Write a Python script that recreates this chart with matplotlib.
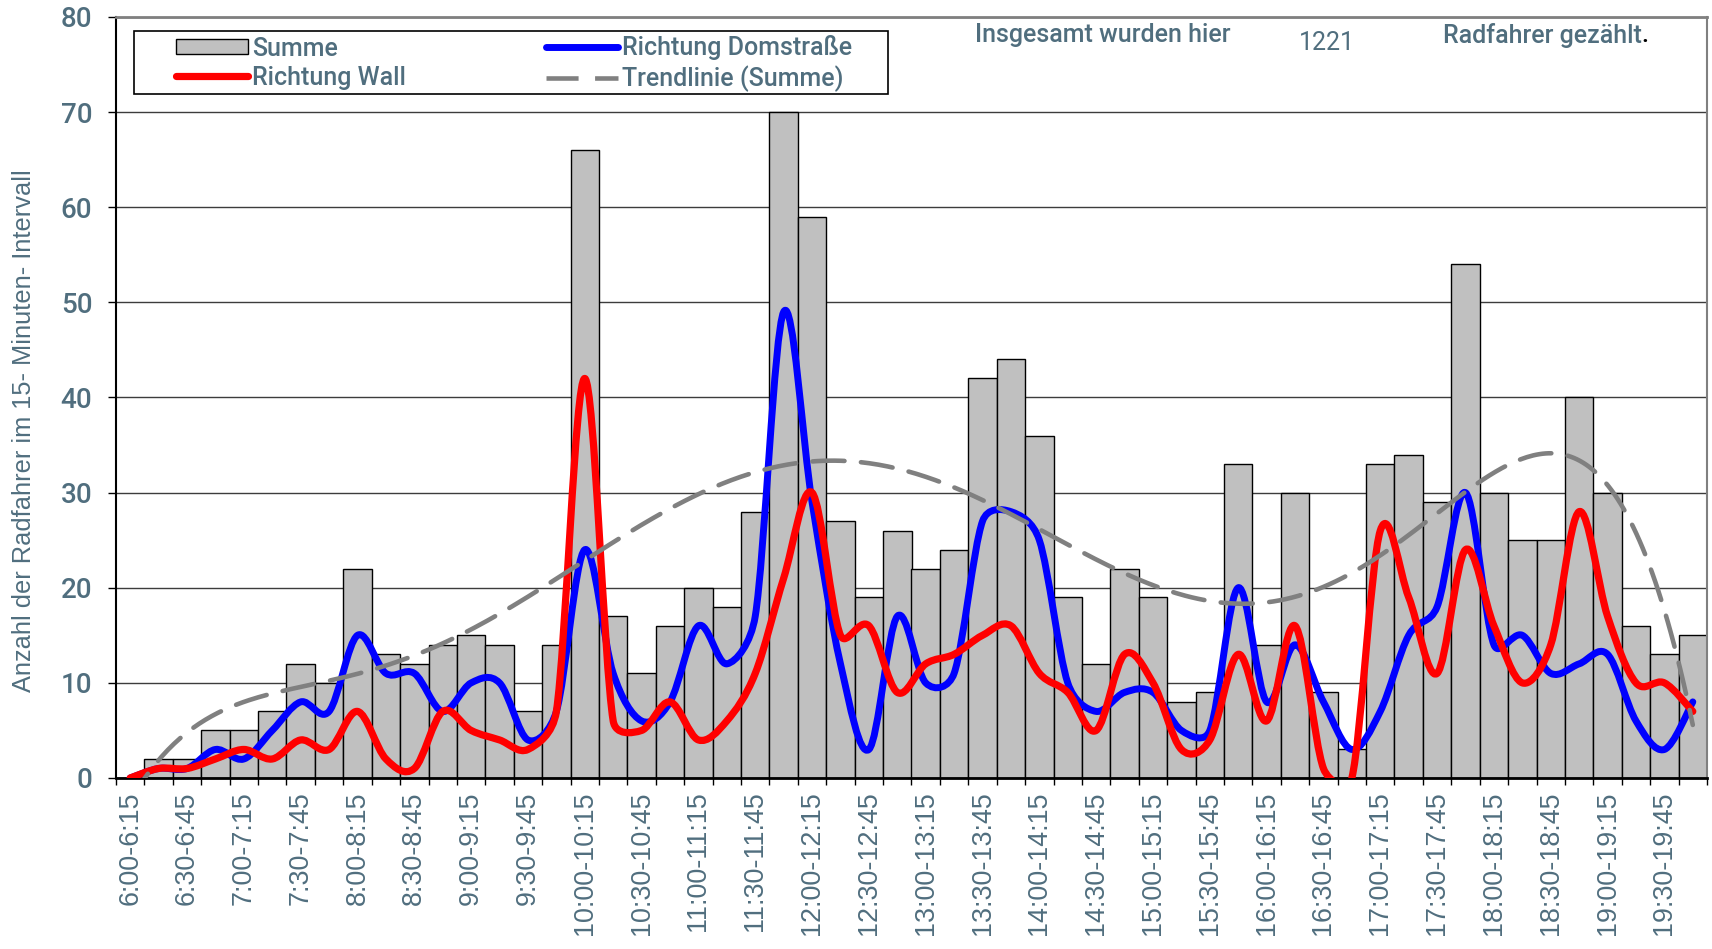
import numpy as np
import matplotlib
matplotlib.use("Agg")
import matplotlib.pyplot as plt
from matplotlib.path import Path
from matplotlib.patches import PathPatch, Patch, Rectangle
from matplotlib.lines import Line2D

# Zeitintervalle (15 Minuten)
intervalle = ["6:00-6:15", "6:15-6:30", "6:30-6:45", "6:45-7:00",
              "7:00-7:15", "7:15-7:30", "7:30-7:45", "7:45-8:00",
              "8:00-8:15", "8:15-8:30", "8:30-8:45", "8:45-9:00",
              "9:00-9:15", "9:15-9:30", "9:30-9:45", "9:45-10:00",
              "10:00-10:15", "10:15-10:30", "10:30-10:45", "10:45-11:00",
              "11:00-11:15", "11:15-11:30", "11:30-11:45", "11:45-12:00",
              "12:00-12:15", "12:15-12:30", "12:30-12:45", "12:45-13:00",
              "13:00-13:15", "13:15-13:30", "13:30-13:45", "13:45-14:00",
              "14:00-14:15", "14:15-14:30", "14:30-14:45", "14:45-15:00",
              "15:00-15:15", "15:15-15:30", "15:30-15:45", "15:45-16:00",
              "16:00-16:15", "16:15-16:30", "16:30-16:45", "16:45-17:00",
              "17:00-17:15", "17:15-17:30", "17:30-17:45", "17:45-18:00",
              "18:00-18:15", "18:15-18:30", "18:30-18:45", "18:45-19:00",
              "19:00-19:15", "19:15-19:30", "19:30-19:45", "19:45-20:00"]

summe = [0, 2, 2, 5, 5, 7, 12, 10, 22, 13, 12, 14, 15, 14, 7, 14,
         66, 17, 11, 16, 20, 18, 28, 70, 59, 27, 19, 26, 22, 24, 42, 44,
         36, 19, 12, 22, 19, 8, 9, 33, 14, 30, 9, 3, 33, 34, 29, 54,
         30, 25, 25, 40, 30, 16, 13, 15]

richtung_dom = [0, 1, 1, 3, 2, 5, 8, 7, 15, 11, 11, 7, 10, 10, 4, 7,
                24, 11, 6, 8, 16, 12, 17, 49, 29, 12, 3, 17, 10, 11, 27, 28,
                25, 10, 7, 9, 9, 5, 5, 20, 8, 14, 8, 3, 7, 15, 18, 30,
                14, 15, 11, 12, 13, 6, 3, 8]

richtung_wall = [0, 1, 1, 2, 3, 2, 4, 3, 7, 2, 1, 7, 5, 4, 3, 7,
                 42, 6, 5, 8, 4, 6, 11, 21, 30, 15, 16, 9, 12, 13, 15, 16,
                 11, 9, 5, 13, 10, 3, 4, 13, 6, 16, 1, 0, 26, 19, 11, 24,
                 16, 10, 14, 28, 17, 10, 10, 7]

gesamt = 1221

textfarbe = "#506E7E"
W, H = 1712, 949


def glatte_linie(ax, xs, ys):
    # geglaettete Linie wie in Excel: Bezier durch die Messpunkte,
    # Kontrollpunkte in Pixeln begrenzt (kein starkes Ueberschwingen)
    p = ax.transData.transform(np.column_stack([xs, ys]).astype(float))
    n = len(p)
    verts = [p[0]]
    codes = [Path.MOVETO]
    for i in range(n - 1):
        p0, p1, p2, p3 = p[max(i - 1, 0)], p[i], p[i + 1], p[min(i + 2, n - 1)]
        d12 = np.hypot(*(p2 - p1))
        d02 = np.hypot(*(p2 - p0))
        d13 = np.hypot(*(p3 - p1))
        f1 = min(1 / 6, d12 / (2 * d02)) if d02 > 0 else 0
        f2 = min(1 / 6, d12 / (2 * d13)) if d13 > 0 else 0
        verts += [p1 + (p2 - p0) * f1, p2 - (p3 - p1) * f2, p2]
        codes += [Path.CURVE4] * 3
    verts = ax.transData.inverted().transform(np.array(verts))
    return Path(verts, codes)


fig = plt.figure(figsize=(W / 100, H / 100), dpi=100)
ax = fig.add_axes([116 / W, 1 - 778 / H, (1707 - 116) / W, (778 - 17) / H])

x = np.arange(len(summe))
ax.set_xlim(-0.5, len(summe) - 0.5)
ax.set_ylim(0, 80)

ax.bar(x, summe, width=1.0, color="#C0C0C0", edgecolor="black", linewidth=1, zorder=2)

blau = PathPatch(glatte_linie(ax, x, richtung_dom), fill=False, edgecolor="#0000FF",
                 linewidth=5.0, capstyle="round", joinstyle="round", zorder=3)
rot = PathPatch(glatte_linie(ax, x, richtung_wall), fill=False, edgecolor="#FF0000",
                linewidth=5.2, capstyle="round", joinstyle="round", zorder=4)
ax.add_patch(blau)
ax.add_patch(rot)

# polynomische Trendlinie (6. Ordnung) der Summe
koeff = np.polyfit(x + 1, summe, 6)
xt = np.linspace(0, len(summe) - 1, 500)
ax.plot(xt, np.polyval(koeff, xt + 1), color="#808080", linewidth=3.3,
        dashes=(7, 3.6), dash_capstyle="round", zorder=5)

ax.set_yticks(range(0, 81, 10))
ax.yaxis.grid(True, color="#3C3C3C", linewidth=1)
ax.set_axisbelow(True)

ax.set_xticks(np.arange(len(summe) + 1) - 0.5)
ax.set_xticklabels([])
ax.tick_params(axis="x", which="major", direction="out", length=5, width=1, color="black")
ax.set_xticks(x[::2], minor=True)
ax.set_xticklabels(intervalle[::2], minor=True, rotation=90, fontsize=19.4,
                   family="Liberation Sans", color=textfarbe, va="top")
ax.tick_params(axis="x", which="minor", length=0, pad=9.5)
ax.tick_params(axis="y", direction="out", length=6, width=1, color="black", pad=11)
for lbl in ax.get_yticklabels():
    lbl.set_family("Roboto")
    lbl.set_weight("medium")
    lbl.set_fontsize(20)
    lbl.set_color(textfarbe)

ax.spines["left"].set_linewidth(1.5)
ax.spines["bottom"].set_linewidth(2)
ax.spines["top"].set_color("#808080")
ax.spines["top"].set_linewidth(2)
ax.spines["right"].set_color("#808080")
ax.spines["right"].set_linewidth(1.5)

fig.text(24 / W, 1 - 431 / H, "Anzahl der Radfahrer im 15- Minuten- Intervall",
         rotation=90, ha="center", va="center", fontsize=18.3,
         family="Liberation Sans", color=textfarbe)

# Legende mit eigenem Rahmen
griffe = [Patch(facecolor="#C0C0C0", edgecolor="black", linewidth=1),
          Line2D([], [], color="#FF0000", linewidth=5.2, solid_capstyle="round"),
          Line2D([], [], color="#0000FF", linewidth=5.0, solid_capstyle="round"),
          Line2D([], [], color="#808080", linewidth=3.3, dashes=(7, 3.6))]
namen = ["Summe", "Richtung Wall", "Richtung Domstraße", "Trendlinie (Summe)"]
leg = fig.legend(griffe, namen, ncol=2, loc="upper left",
                 bbox_to_anchor=(163 / W, 1 - 23 / H), frameon=False,
                 prop={"family": "Roboto", "weight": "medium", "size": 18},
                 handlelength=2.9, handleheight=0.55, handletextpad=0.15,
                 columnspacing=5.6, labelspacing=0.2, borderpad=0)
for t in leg.get_texts():
    t.set_color(textfarbe)
fig.patches.append(Rectangle((134 / W, 1 - 94 / H), (888 - 134) / W, 63 / H,
                             transform=fig.transFigure, fill=False,
                             edgecolor="black", linewidth=1.2))

fig.text(975 / W, 1 - 35 / H, "Insgesamt wurden hier", fontsize=18,
         family="Roboto", weight="medium", color=textfarbe, va="center")
fig.text(1299 / W, 1 - 43 / H, str(gesamt), fontsize=18,
         family="Roboto", color=textfarbe, va="center")
fig.text(1443 / W, 1 - 35 / H, "Radfahrer gezählt", fontsize=18,
         family="Roboto", weight="medium", color=textfarbe, va="center")
fig.text(1641 / W, 1 - 35 / H, ".", fontsize=18,
         family="Roboto", weight="medium", color="black", va="center")

fig.savefig("out.png", dpi=100)
